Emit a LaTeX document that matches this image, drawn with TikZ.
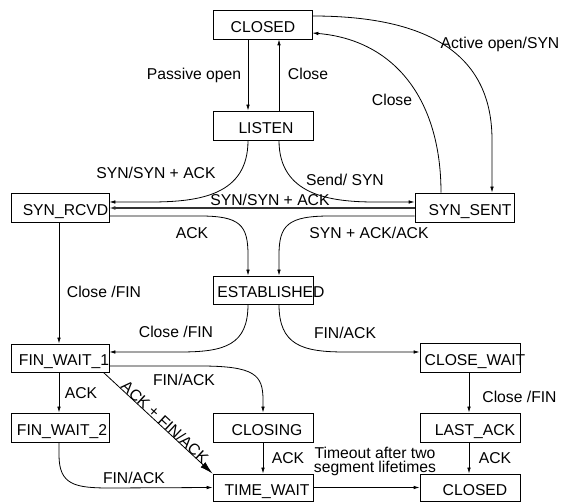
\documentclass[tikz,border=0pt]{standalone}
\usepackage{fontspec}
\setmainfont{Liberation Sans}
\usetikzlibrary{arrows.meta}
\newcommand\ctext[2]{\makebox[0pt]{\hspace*{#1}#2}}
\begin{document}
\begin{tikzpicture}[x=1pt,y=-1pt,
  font=\fontsize{15.7}{18}\selectfont,
  st/.style={draw, line width=0.8pt, minimum width=100pt, minimum height=29pt, inner sep=0pt, text height=15.3pt, text depth=0pt},
  lb/.style={inner sep=0pt, text height=11.4pt, text depth=0pt},
  ar/.style={line width=0.8pt, -{Latex[length=6pt,width=3.6pt]}},
  big/.style={line width=0.8pt, -{Latex[length=13pt,width=7pt]}},
  thk/.style={line width=1.7pt, draw=black!80, -{Latex[length=6pt,width=4pt]}},
]
\useasboundingbox (0,0) rectangle (568,502);
% states
\node[st, minimum width=99pt] (closedA) at (262.5,24.5) {\ctext{1pt}{CLOSED}};
\node[st] (listen) at (263,125.5) {\ctext{6pt}{LISTEN}};
\node[st, minimum width=98pt] (synr) at (60,207.5) {\ctext{11pt}{SYN\_RCVD}};
\node[st, minimum width=99pt] (syns) at (464.5,207.5) {\ctext{11pt}{SYN\_SENT}};
\node[st, minimum height=28pt] (est) at (263,290) {\ctext{16pt}{ESTABLISHED}};
\node[st, minimum width=98pt, minimum height=28pt] (fw1) at (60,358) {\ctext{8pt}{FIN\_WAIT\_1}};
\node[st, minimum width=98pt] (fw2) at (60,427.5) {\ctext{4pt}{FIN\_WAIT\_2}};
\node[st] (closing) at (263,427.5) {\ctext{8pt}{CLOSING}};
\node[st, minimum height=27pt] (tw) at (263,487.5) {\ctext{8pt}{TIME\_WAIT}};
\node[st] (closewait) at (470,357.5) {\ctext{10pt}{CLOSE\_WAIT}};
\node[st] (lastack) at (470,427.5) {\ctext{10pt}{LAST\_ACK}};
\node[st, minimum height=27pt] (closedB) at (470,487.5) {\ctext{10pt}{CLOSED}};
% transitions
\draw[ar] ([xshift=-14.5pt]closedA.south) -- ([xshift=-15pt]listen.north);
\draw[ar] ([xshift=16pt]listen.north) -- ([xshift=16.5pt]closedA.south);
\draw[ar] ([yshift=8.5pt]closedA.east) .. controls (450,16) and (492,70) .. (492,140) -- ([xshift=27.5pt]syns.north);
\draw[ar] ([xshift=-23.5pt]syns.north) .. controls (441,100) and (395,40) .. ([yshift=-8.5pt]closedA.east);
\draw[ar] ([xshift=-15pt]listen.south) .. controls (248,195) and (200,202) .. (150,202) -- ([yshift=5.5pt]synr.east);
\draw[ar] ([xshift=16pt]listen.south) .. controls (279,195) and (330,202) .. (375,202) -- ([yshift=5.5pt]syns.west);
\draw[thk] ([yshift=-0.5pt]syns.west) -- ([yshift=-0.5pt]synr.east);
\draw[ar] ([yshift=-8.5pt]synr.east) -- (200,216) .. controls (240,216) and (248,225) .. (248,255) -- ([xshift=-15pt]est.north);
\draw[ar] ([yshift=-8.5pt]syns.west) -- (330,216) .. controls (288,216) and (279,225) .. (279,255) -- ([xshift=16pt]est.north);
\draw[ar] ([xshift=-1pt]synr.south) -- ([xshift=-1pt]fw1.north);
\draw[ar] ([xshift=-15pt]est.south) .. controls (248,345) and (225,352) .. (180,352) -- ([yshift=6pt]fw1.east);
\draw[ar] ([xshift=16pt]est.south) .. controls (279,345) and (302,352) .. (345,352) -- ([yshift=5.5pt]closewait.west);
\draw[ar] ([yshift=-8pt]fw1.east) -- (200,366) .. controls (255,366) and (263,375) .. (263,400) -- (closing.north);
\draw[ar] ([xshift=-1pt]fw1.south) -- ([xshift=-1pt]fw2.north);
\draw[big] ([xshift=-6pt]fw1.south east) -- (tw.north west)
  node[sloped, pos=0.53, anchor=base, inner sep=0pt] (lbdiag) {ACK + FIN/ACK};
\draw[ar] ([xshift=-1pt]fw2.south) -- (59,455) .. controls (59,485) and (75,488) .. (110,488) -- (tw.west);
\draw[ar] (closing.south) -- (tw.north);
\draw[ar] (tw.east) -- (closedB.west);
\draw[ar] ([xshift=-1pt]closewait.south) -- ([xshift=-1pt]lastack.north);
\draw[ar] ([xshift=-1pt]lastack.south) -- ([xshift=-1pt]closedB.north);
% labels
\node[lb] (l1) at (194,74) {Passive open};
\node[lb] (l2) at (308,74) {Close};
\node[lb] (l3) at (392,100) {Close};
\node[lb] (l4) at (500,43) {Active open/SYN};
\node[lb] (l5) at (156,173) {SYN/SYN + ACK};
\node[lb] (l6) at (345,180) {Send/ SYN};
\node[lb] (l7) at (270,199.5) {SYN/SYN + ACK};
\node[lb] (l8) at (192,233) {ACK};
\node[lb] (l9) at (369,233) {SYN + ACK/ACK};
\node[lb] (l10) at (104,292) {Close /FIN};
\node[lb] (l11) at (176,332) {Close /FIN};
\node[lb] (l12) at (345,333) {FIN/ACK};
\node[lb] (l13) at (184,380) {FIN/ACK};
\node[lb] (l14) at (81,393) {ACK};
\node[lb] (l15) at (134,478) {FIN/ACK};
\node[lb] (l16) at (288,458) {ACK};
\node[lb] (l17) at (519.5,397) {Close /FIN};
\node[lb] (l18) at (495,458) {ACK};
\node[align=center, inner sep=0pt, font=\fontsize{15.7}{14}\selectfont] (l19) at (375,461) {Timeout after two\\segment lifetimes};
\end{tikzpicture}
\end{document}
